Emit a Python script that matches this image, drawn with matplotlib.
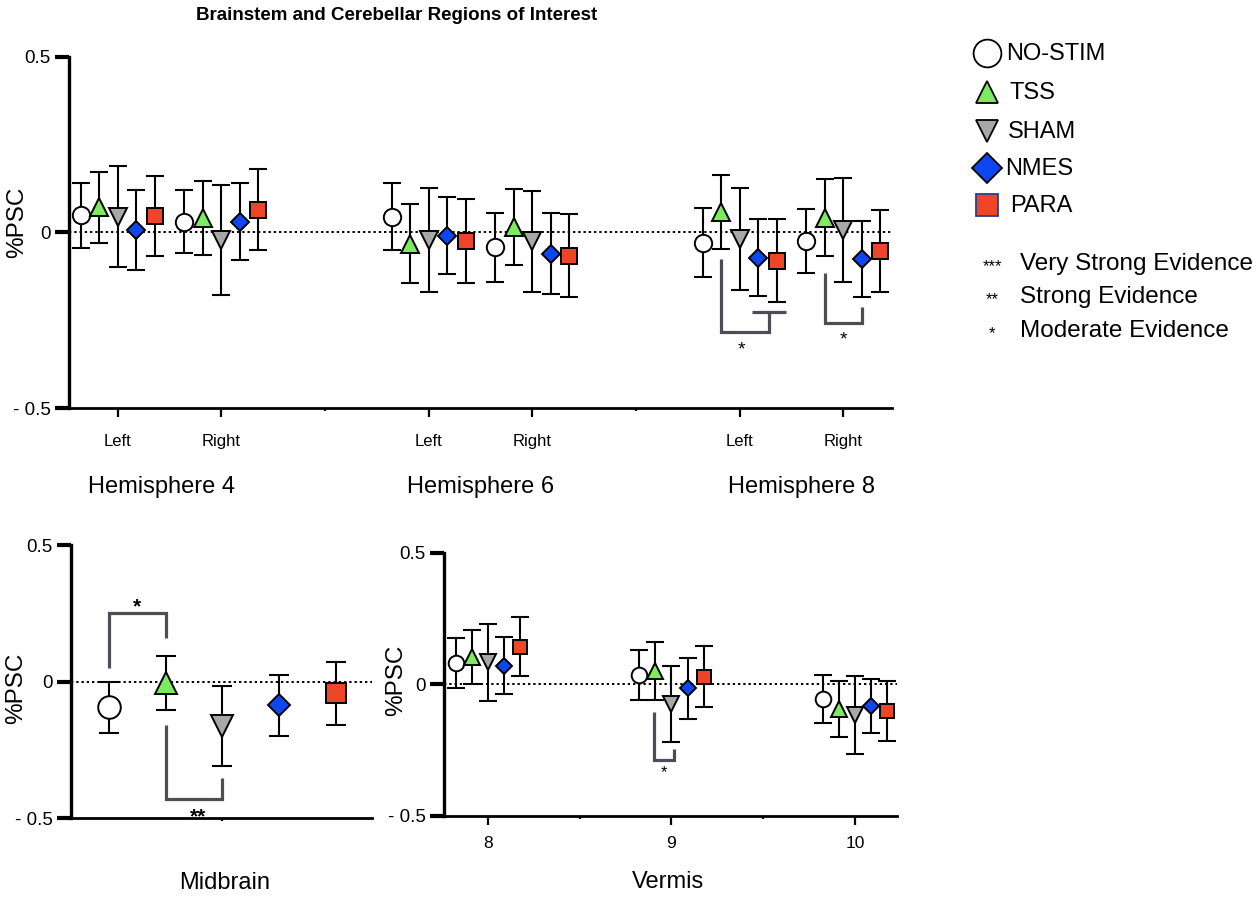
import numpy as np
import matplotlib
matplotlib.use('Agg')
import matplotlib.pyplot as plt

plt.rcParams['font.family'] = ['Liberation Sans', 'DejaVu Sans']

# conditions and their marker styles
conditions = ['NO-STIM', 'TSS', 'SHAM', 'NMES', 'PARA']
markers = ['o', '^', 'v', 'D', 's']
face_colors = ['white', '#7CEB5F', '#A8A8A8', '#0D47F2', '#EE4427']
bracket_color = '#4D4D55'

# top panel: hemispheres, one row per side (Left/Right) of each lobule
hemi_names = ['Hemisphere 4', 'Hemisphere 6', 'Hemisphere 8']
hemi_sides = ['Left', 'Right', 'Left', 'Right', 'Left', 'Right']
hemi_pos = [0, 1, 3, 4, 6, 7]
hemi_mean = [
    [0.048, 0.072, 0.045, 0.007, 0.047],
    [0.030, 0.040, -0.022, 0.030, 0.065],
    [0.045, -0.032, -0.022, -0.009, -0.024],
    [-0.042, 0.015, -0.026, -0.061, -0.066],
    [-0.029, 0.057, -0.019, -0.072, -0.081],
    [-0.025, 0.042, 0.006, -0.075, -0.053],
]
hemi_err = [
    [0.092, 0.101, 0.145, 0.113, 0.113],
    [0.090, 0.105, 0.157, 0.110, 0.115],
    [0.095, 0.112, 0.147, 0.109, 0.120],
    [0.098, 0.108, 0.144, 0.115, 0.118],
    [0.098, 0.105, 0.144, 0.109, 0.118],
    [0.092, 0.109, 0.148, 0.108, 0.116],
]

# bottom left: midbrain
midbrain_mean = [-0.095, -0.006, -0.163, -0.087, -0.043]
midbrain_err = [0.095, 0.100, 0.148, 0.111, 0.115]

# bottom right: vermis lobules
vermis_lobules = ['8', '9', '10']
vermis_mean = [
    [0.082, 0.104, 0.084, 0.070, 0.142],
    [0.036, 0.050, -0.075, -0.015, 0.029],
    [-0.056, -0.094, -0.116, -0.081, -0.102],
]
vermis_err = [
    [0.095, 0.104, 0.147, 0.108, 0.112],
    [0.094, 0.110, 0.144, 0.115, 0.115],
    [0.090, 0.106, 0.147, 0.102, 0.113],
]

evidence_stars = ['***', '**', '*']
evidence_text = ['Very Strong Evidence', 'Strong Evidence', 'Moderate Evidence']

W, H = 1260, 897
base_ms = [12.5, 12.5, 12.5, 8.8, 11.5]


def px_axes(left, top, right, bottom):
    return [left / W, 1 - bottom / H, (right - left) / W, (bottom - top) / H]


def style_axis(ax):
    ax.spines['top'].set_visible(False)
    ax.spines['right'].set_visible(False)
    ax.spines['left'].set_linewidth(2.4)
    ax.spines['bottom'].set_linewidth(2.0)
    ax.set_ylim(-0.5, 0.5)
    ax.set_yticks([-0.5, 0, 0.5])
    ax.set_yticklabels(['- 0.5', '0', '0.5'], fontsize=13.5)
    ax.tick_params(axis='y', length=10, width=3, pad=3)
    ax.axhline(0, color='black', ls=(0, (1.2, 1.5)), lw=1.4, zorder=1)


def draw_group(ax, x0, means, errs, spacing, scale, capsize):
    for i in range(len(conditions)):
        x = x0 + (i - 2) * spacing
        ax.errorbar(x, means[i], yerr=errs[i], fmt='none', ecolor='black',
                    elinewidth=1.5, capsize=capsize, capthick=1.5, zorder=2)
        ax.plot(x, means[i], marker=markers[i], ms=base_ms[i] * scale,
                mfc=face_colors[i], mec='black', mew=1.4, ls='none', zorder=3)


def bracket(ax, xs, ys):
    ax.plot(xs, ys, color=bracket_color, lw=2.3, clip_on=False,
            solid_joinstyle='miter', solid_capstyle='butt', zorder=4)


fig = plt.figure(figsize=(12.6, 8.97), dpi=100)

# ---- top panel: hemispheres
ax1 = fig.add_axes(px_axes(69, 56.7, 892, 408))
style_axis(ax1)
for k in range(len(hemi_pos)):
    draw_group(ax1, hemi_pos[k], hemi_mean[k], hemi_err[k], 0.178, 1.0, 6.8)
ax1.set_xlim(-0.47, 7.47)
ax1.set_xticks(hemi_pos)
ax1.set_xticklabels(hemi_sides, fontsize=12)
ax1.set_xticks([2, 5], minor=True)
ax1.tick_params(axis='x', length=6.5, width=1.6, pad=12)
ax1.tick_params(axis='x', which='minor', length=2, width=1.6)

# significance brackets, hemisphere 8
bracket(ax1, [5.822, 5.822, 6.284, 6.284], [-0.075, -0.285, -0.285, -0.228])
bracket(ax1, [6.12, 6.45], [-0.228, -0.228])
ax1.text(6.02, -0.335, '*', ha='center', va='center', fontsize=14)
bracket(ax1, [6.822, 6.822, 7.182, 7.182], [-0.115, -0.257, -0.257, -0.212])
ax1.text(7.0, -0.305, '*', ha='center', va='center', fontsize=14)

# ---- bottom left: midbrain
ax2 = fig.add_axes(px_axes(71, 545, 372, 818))
style_axis(ax2)
draw_group(ax2, 2, midbrain_mean, midbrain_err, 1.0, 1.3, 7.5)
ax2.set_xlim(-0.67, 4.64)
ax2.set_xticks([])
ax2.set_xticks([2], minor=True)
ax2.tick_params(axis='x', which='minor', length=2, width=1.6)
bracket(ax2, [0, 0, 1, 1], [0.05, 0.252, 0.252, 0.16])
ax2.text(0.5, 0.272, '*', ha='center', va='center', fontsize=15, fontweight='bold')
bracket(ax2, [1, 1, 2, 2], [-0.159, -0.43, -0.43, -0.353])
ax2.text(1.57, -0.495, '**', ha='center', va='center', fontsize=15, fontweight='bold')

# ---- bottom right: vermis
ax3 = fig.add_axes(px_axes(444, 552.7, 897, 816))
style_axis(ax3)
for k in range(len(vermis_lobules)):
    draw_group(ax3, k, vermis_mean[k], vermis_err[k], 0.088, 0.9, 6.3)
ax3.set_xlim(-0.24, 2.23)
ax3.set_xticks(range(len(vermis_lobules)))
ax3.set_xticklabels(vermis_lobules, fontsize=12.5)
ax3.set_xticks([0.5, 1.5], minor=True)
ax3.tick_params(axis='x', length=6.5, width=1.6, pad=8)
ax3.tick_params(axis='x', which='minor', length=2, width=1.6)
bracket(ax3, [0.904, 0.904, 1.013, 1.013], [-0.105, -0.286, -0.286, -0.244])
ax3.text(0.957, -0.335, '*', ha='center', va='center', fontsize=12)

# ---- overlay for titles, labels and legend (pixel coordinates)
lax = fig.add_axes([0, 0, 1, 1])
lax.set_xlim(0, W)
lax.set_ylim(H, 0)
lax.axis('off')
lax.patch.set_alpha(0)

lax.text(397, 15, 'Brainstem and Cerebellar Regions of Interest', ha='center',
         va='center', fontsize=13.5, fontweight='bold')
for x, y in [(17, 222), (16, 688), (396, 680)]:
    lax.text(x, y, '%PSC', rotation=90, ha='center', va='center', fontsize=17.5)
for name, x in zip(hemi_names, [161, 481, 801]):
    lax.text(x, 487, name, ha='center', va='center', fontsize=17)
lax.text(225, 883, 'Midbrain', ha='center', va='center', fontsize=17)
lax.text(668, 882, 'Vermis', ha='center', va='center', fontsize=17)

leg_y = [53, 92, 131, 168, 205]
leg_tx = [1006, 1010, 1008, 1005, 1010]
leg_ms = [20, 16.5, 16, 15.5, 16]
leg_edge = ['black', 'black', 'black', 'black', '#27408B']
for i in range(len(conditions)):
    lax.plot(987, leg_y[i], marker=markers[i], ms=leg_ms[i], mfc=face_colors[i],
             mec=leg_edge[i], mew=1.3, ls='none')
    lax.text(leg_tx[i], leg_y[i] + 1, conditions[i], ha='left', va='center', fontsize=17)

for i, y in enumerate([263, 296, 330]):
    lax.text(992, y + 4, evidence_stars[i], ha='center', va='center', fontsize=12)
    lax.text(1020, y + 1, evidence_text[i], ha='left', va='center', fontsize=17.5)

fig.savefig('out.png', dpi=100)
